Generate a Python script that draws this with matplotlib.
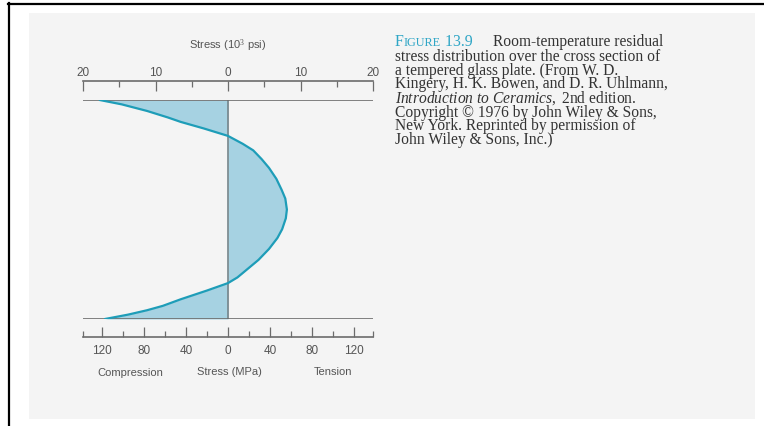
import matplotlib

matplotlib.use("Agg")

import matplotlib.pyplot as plt
from matplotlib.lines import Line2D
from matplotlib.patches import Rectangle
from matplotlib.ticker import FixedLocator, FuncFormatter

plt.rcParams["mathtext.fontset"] = "custom"
plt.rcParams["mathtext.rm"] = "Liberation Serif"
plt.rcParams["mathtext.it"] = "Liberation Serif:italic"

# residual stress across the plate: depth in % of thickness, stress in MPa
depth_pct = [0, 2, 5, 8, 10, 13, 16.4, 20, 23, 27, 31, 36, 41, 45, 50, 54, 59,
             63, 68, 73, 77, 81, 83.6, 87, 91, 94, 96, 98, 100]
stress_mpa = [-122, -101, -77, -57, -45, -23, 0, 14, 24, 32, 39, 46, 51, 54.5, 56, 55, 51.5,
              47, 39, 29, 19, 9, 0, -20, -45, -62, -77, -95, -117]

ksi_major = [-20, -10, 0, 10, 20]
ksi_minor = [-15, -5, 5, 15]
mpa_major = [-120, -80, -40, 0, 40, 80, 120]
mpa_minor = [-137.9, -100, -60, -20, 20, 60, 100, 137.9]

caption_first = "Room-temperature residual"
caption_rest = [
    "stress distribution over the cross section of",
    "a tempered glass plate. (From W. D.",
    "Kingery, H. K. Bowen, and D. R. Uhlmann,",
    r"$\mathit{Introduction\ to\ Ceramics,}$ 2nd edition.",
    "Copyright \u00a9 1976 by John Wiley & Sons,",
    "New York. Reprinted by permission of",
    "John Wiley & Sons, Inc.)",
]

MPA_PER_KSI = 6.895
W, H = 764, 427

fig = plt.figure(figsize=(W / 100, H / 100), dpi=100)
fig.patch.set_facecolor("white")
renderer = fig.canvas.get_renderer()


def fx(x):
    return x / W


def fy(y):
    return 1 - y / H


def text_run(x, y, parts):
    """Draw (string, kwargs) pieces one after another on a shared baseline."""
    for s, kw in parts:
        t = fig.text(fx(x), fy(y), s, va="baseline", **kw)
        x += t.get_window_extent(renderer).width


# page frame and grey panel
fig.add_artist(Rectangle((fx(29), fy(420)), fx(726), 406 / H, transform=fig.transFigure,
                         facecolor="#f4f4f4", edgecolor="none", zorder=0))
fig.add_artist(Line2D([fx(8), 1], [fy(4.5), fy(4.5)], transform=fig.transFigure,
                      color="black", lw=1.6))
fig.add_artist(Line2D([fx(8.5), fx(8.5)], [fy(4), 0], transform=fig.transFigure,
                      color="black", lw=1.6))

ax = fig.add_axes([fx(83), fy(320), fx(290), 219 / H])
ax.set_facecolor("none")
ax.set_xlim(-20 * MPA_PER_KSI, 20 * MPA_PER_KSI)
ax.set_ylim(100, 0)
for s in ax.spines.values():
    s.set_visible(False)
ax.set_xticks([])
ax.set_yticks([])

curve_color = "#1e9db8"
line_gray = "#6c6c6c"
ax.fill_betweenx(depth_pct, 0, stress_mpa, color="#a6d2e2", lw=0, zorder=1)
ax.plot(stress_mpa, depth_pct, color=curve_color, lw=1.6, solid_capstyle="round",
        solid_joinstyle="round", zorder=3)
ax.axvline(0, color="#75858b", lw=1.2, zorder=2)
ax.axhline(0, color=line_gray, lw=1.2, zorder=2)
ax.axhline(100, color=line_gray, lw=1.2, zorder=2)

tick_font = dict(family="Liberation Sans", size=8.5, color="#555555")

# top ruler in 10^3 psi
top = ax.secondary_xaxis(1.087, functions=(lambda m: m / MPA_PER_KSI, lambda k: k * MPA_PER_KSI))
top.xaxis.set_major_locator(FixedLocator(ksi_major))
top.xaxis.set_minor_locator(FixedLocator(ksi_minor))
top.xaxis.set_major_formatter(FuncFormatter(lambda v, p: f"{abs(v):.0f}"))
top.tick_params(which="major", direction="in", length=7.5, width=0.9, color=line_gray, pad=2)
top.tick_params(which="minor", direction="in", length=4.5, width=0.9, color=line_gray)
top.spines["top"].set_color(line_gray)
top.spines["top"].set_linewidth(1.2)
for lbl in top.get_xticklabels():
    lbl.set(**tick_font)

# bottom ruler in MPa
bot = ax.secondary_xaxis(-0.082)
bot.xaxis.set_major_locator(FixedLocator(mpa_major))
bot.xaxis.set_minor_locator(FixedLocator(mpa_minor))
bot.xaxis.set_major_formatter(FuncFormatter(lambda v, p: f"{abs(v):.0f}"))
bot.tick_params(which="major", direction="in", length=7.5, width=0.9, color=line_gray, pad=5)
bot.tick_params(which="minor", direction="in", length=4.5, width=0.9, color=line_gray)
bot.spines["bottom"].set_color(line_gray)
bot.spines["bottom"].set_linewidth(1.2)
for lbl in bot.get_xticklabels():
    lbl.set(**tick_font)

label_font = dict(family="Liberation Sans", size=8, color="#555555", ha="center", va="center")
fig.text(fx(228), fy(46), "Stress (10$^3$ psi)", **label_font)
fig.text(fx(229), fy(372), "Stress (MPa)", **label_font)
fig.text(fx(130), fy(373), "Compression", **label_font)
fig.text(fx(333), fy(372), "Tension", **label_font)

# figure caption; a multi-line text anchored at "baseline" uses its last line
cap = dict(family="Liberation Serif", size=11.2, color="#333333")
head = dict(family="Liberation Serif", color="#2fa6c6")
base = 46
step = 14
text_run(395, base, [("F", dict(size=11.5, **head)), ("IGURE", dict(size=8.8, **head)),
                     (" 13.9", dict(size=11.5, **head))])
fig.text(fx(493), fy(base), caption_first, va="baseline", **cap)
fig.text(fx(395), fy(base + step * len(caption_rest)), "\n".join(caption_rest),
         va="baseline", linespacing=0.8, **cap)

fig.savefig("out.png", dpi=100)
